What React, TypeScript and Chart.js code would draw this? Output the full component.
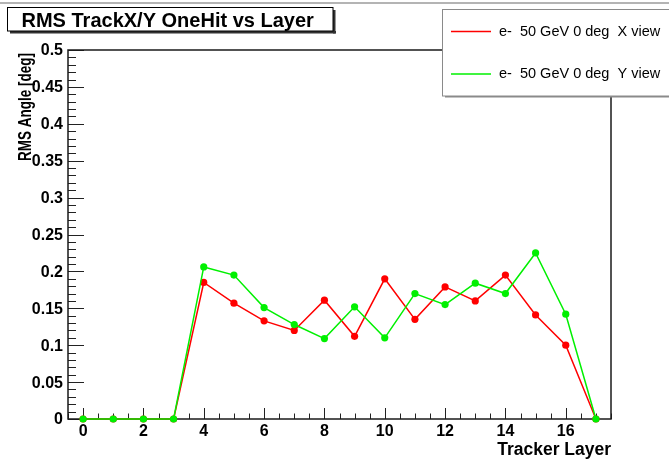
import React, { useEffect, useRef } from "react";
import { Chart, registerables } from "chart.js";

Chart.register(...registerables);

// ---- data ----
const layers = [0, 1, 2, 3, 4, 5, 6, 7, 8, 9, 10, 11, 12, 13, 14, 15, 16, 17];
const xViewRms = [0, 0, 0, 0, 0.185, 0.157, 0.133, 0.12, 0.161, 0.112, 0.19, 0.135, 0.179, 0.16, 0.195, 0.141, 0.1, 0];
const yViewRms = [0, 0, 0, 0, 0.206, 0.195, 0.151, 0.128, 0.109, 0.152, 0.11, 0.17, 0.155, 0.184, 0.17, 0.225, 0.142, 0];
const yTickValues = [0, 0.05, 0.1, 0.15, 0.2, 0.25, 0.3, 0.35, 0.4, 0.45, 0.5];
const yTickLabels = ["0", "0.05", "0.1", "0.15", "0.2", "0.25", "0.3", "0.35", "0.4", "0.45", "0.5"];
const xTickValues = [0, 2, 4, 6, 8, 10, 12, 14, 16];
const xTickLabels = ["0", "2", "4", "6", "8", "10", "12", "14", "16"];
const seriesLabels = ["e-  50 GeV 0 deg  X view", "e-  50 GeV 0 deg  Y view"];
const seriesColors = ["#ff0000", "#00f000"];
const chartTitle = "RMS TrackX/Y OneHit vs Layer";
const xAxisTitle = "Tracker Layer";
const yAxisTitle = "RMS Angle [deg]";

const FONT = '"Liberation Sans", Arial, Helvetica, sans-serif';

const rootStyle = {
  id: "rootStyle",
  beforeDatasetsDraw(chart: any) {
    const ctx = chart.ctx as CanvasRenderingContext2D;
    const { left, right, top, bottom } = chart.chartArea;
    const xs = chart.scales.x;
    const ys = chart.scales.y;
    ctx.save();
    // top gray canvas line
    ctx.fillStyle = "#b4b4b4";
    ctx.fillRect(0, 2, chart.width, 2);

    ctx.strokeStyle = "#222";
    ctx.lineWidth = 1;
    // y ticks (inside)
    for (let i = 0; i <= 50; i++) {
      const v = i / 100;
      const py = Math.round(ys.getPixelForValue(v)) + 0.5;
      const major = i % 5 === 0;
      ctx.beginPath();
      ctx.moveTo(left, py);
      ctx.lineTo(left + (major ? 16 : 8), py);
      ctx.stroke();
    }
    // x ticks (inside)
    for (let i = -1; i <= 35; i++) {
      const v = i / 2;
      const px = Math.round(xs.getPixelForValue(v)) + 0.5;
      const major = i % 4 === 0 && i >= 0;
      ctx.beginPath();
      ctx.moveTo(px, bottom);
      ctx.lineTo(px, bottom - (major ? 11 : 5.5));
      ctx.stroke();
    }
    // frame
    ctx.lineWidth = 1.5;
    ctx.strokeStyle = "#1a1a1a";
    ctx.strokeRect(left, top, right - left, bottom - top);

    // tick labels
    ctx.fillStyle = "#000";
    ctx.font = `bold 16px ${FONT}`;
    ctx.textAlign = "right";
    ctx.textBaseline = "middle";
    yTickValues.forEach((v, i) => {
      ctx.fillText(yTickLabels[i], left - 5, ys.getPixelForValue(v) + 1);
    });
    ctx.textAlign = "center";
    ctx.textBaseline = "alphabetic";
    xTickValues.forEach((v, i) => {
      ctx.fillText(xTickLabels[i], xs.getPixelForValue(v), bottom + 17);
    });

    // axis titles
    ctx.font = `bold 17.5px ${FONT}`;
    ctx.textAlign = "right";
    ctx.fillText(xAxisTitle, right, bottom + 36);

    ctx.save();
    ctx.font = `bold 17.5px ${FONT}`;
    ctx.translate(30.5, top + 3);
    ctx.rotate(-Math.PI / 2);
    const w = ctx.measureText(yAxisTitle).width;
    ctx.scale(108 / w, 1);
    ctx.textAlign = "right";
    ctx.fillText(yAxisTitle, 0, 0);
    ctx.restore();
    ctx.restore();
  },
  afterDraw(chart: any) {
    const ctx = chart.ctx as CanvasRenderingContext2D;
    ctx.save();
    // title box
    ctx.fillStyle = "#333";
    ctx.fillRect(10, 31, 326, 2.5);
    ctx.fillRect(333, 10, 2.5, 23.5);
    ctx.fillStyle = "#fff";
    ctx.fillRect(7.5, 7.5, 325.5, 23.5);
    ctx.strokeStyle = "#000";
    ctx.lineWidth = 1;
    ctx.strokeRect(7.5, 7.5, 325.5, 23.5);
    ctx.fillStyle = "#000";
    ctx.font = `bold 20px ${FONT}`;
    ctx.textAlign = "left";
    ctx.textBaseline = "alphabetic";
    ctx.fillText(chartTitle, 21.5, 26.5);

    // legend box
    ctx.fillStyle = "#8a8a8a";
    ctx.fillRect(445, 96, 240, 1.5);
    ctx.fillStyle = "#fff";
    ctx.fillRect(442.5, 9.5, 240, 86.5);
    ctx.strokeStyle = "#8a8a8a";
    ctx.strokeRect(442.5, 9.5, 240, 86.5);
    const rows = [31.5, 74];
    seriesLabels.forEach((lab, i) => {
      ctx.strokeStyle = seriesColors[i];
      ctx.lineWidth = 1.5;
      ctx.beginPath();
      ctx.moveTo(451, rows[i]);
      ctx.lineTo(491, rows[i]);
      ctx.stroke();
      ctx.fillStyle = "#000";
      ctx.font = `14.5px ${FONT}`;
      ctx.textBaseline = "middle";
      ctx.fillText(lab, 499, rows[i]);
    });
    ctx.restore();
  },
};

export default function App() {
  const ref = useRef<HTMLCanvasElement | null>(null);
  useEffect(() => {
    if (!ref.current) return;
    const mk = (i: number, vals: number[], order: number) => ({
      label: seriesLabels[i],
      data: layers.map((l, k) => ({ x: l, y: vals[k] })),
      borderColor: seriesColors[i],
      backgroundColor: seriesColors[i],
      pointBackgroundColor: seriesColors[i],
      pointBorderWidth: 0,
      pointRadius: 3.6,
      borderWidth: 1.5,
      tension: 0,
      clip: false as any,
      order,
    });
    const chart = new Chart(ref.current, {
      type: "line",
      data: { datasets: [mk(0, xViewRms, 2), mk(1, yViewRms, 1)] },
      options: {
        responsive: false,
        animation: false,
        events: [],
        layout: { padding: { left: 68, top: 50, right: 58, bottom: 40 } },
        plugins: { legend: { display: false }, tooltip: { enabled: false }, title: { display: false } },
        scales: {
          x: { type: "linear", min: -0.5, max: 17.5, display: false },
          y: { type: "linear", min: 0, max: 0.5, display: false },
        },
      },
      plugins: [rootStyle],
    });
    return () => chart.destroy();
  }, []);
  return (
    <div style={{ position: "fixed", left: 0, top: 0, width: 669, height: 459, background: "#fff" }}>
      <canvas ref={ref} width={669} height={459} style={{ width: 669, height: 459, display: "block" }} />
    </div>
  );
}
